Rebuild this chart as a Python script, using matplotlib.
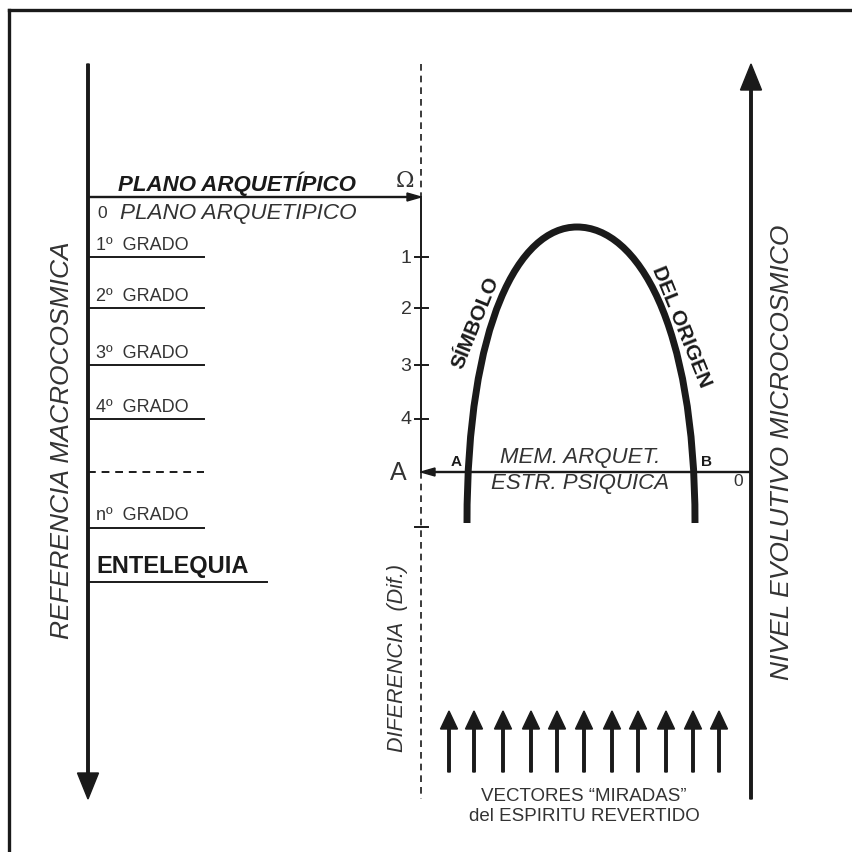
import matplotlib.pyplot as plt
from matplotlib.path import Path
from matplotlib.patches import PathPatch

plt.rcParams['font.family'] = ['Liberation Sans', 'DejaVu Sans']

# degree levels on the left (macrocosmic reference), y in picture pixels
grade_labels = ["1º  GRADO", "2º  GRADO", "3º  GRADO", "4º  GRADO", "nº  GRADO"]
grade_y = [258, 309, 366, 420, 529]
dashed_grade_y = 473
entelequia_y = 583

# ticks on the central axis
tick_labels = ["1", "2", "3", "4"]
tick_y = [258, 309, 366, 420]
bottom_tick_y = 528

# x positions of the "miradas" vectors
vector_x = [449, 474, 503, 531, 557, 584, 612, 638, 666, 693, 719]

# arch bezier control points (left foot -> apex -> right foot)
arch_pts = [(467, 524), (467, 324), (519, 228), (577, 228),
            (637, 228), (695, 324), (695, 524)]

fig = plt.figure(figsize=(8.52, 8.53), dpi=100)
ax = fig.add_axes([0, 0, 1, 1])
ax.set_xlim(0, 852)
ax.set_ylim(853, 0)
ax.axis('off')

ink = '#1a1a1a'
txt = '#333333'

# frame (top and left only)
ax.plot([9, 852], [11, 11], color=ink, lw=2.4)
ax.plot([9, 9], [11, 853], color=ink, lw=2.4)

# left main axis pointing down
ax.arrow(88, 65, 0, 735, width=2.5, head_width=21, head_length=26,
         length_includes_head=True, color=ink)
# right main axis pointing up
ax.arrow(751, 800, 0, -735, width=2.5, head_width=21, head_length=26,
         length_includes_head=True, color=ink)

# central axis: dashed top, solid middle, dashed bottom
ax.plot([421, 421], [65, 198], color=ink, lw=1.2, ls=(0, (4, 3)))
ax.plot([421, 421], [198, 473], color=ink, lw=1.4)
ax.plot([421, 421], [473, 800], color=ink, lw=1.2, ls=(0, (4, 3)))

# horizontal arrows
ax.arrow(88, 198, 333, 0, width=1.0, head_width=8, head_length=14,
         length_includes_head=True, color=ink)
ax.arrow(751, 473, -330, 0, width=1.0, head_width=8, head_length=14,
         length_includes_head=True, color=ink)

ax.text(118, 184, "PLANO ARQUETÍPICO", fontsize=16, fontweight='bold',
        fontstyle='italic', color=ink, va='center', ha='left')
ax.text(405, 181, "Ω", fontsize=16, family='DejaVu Serif', color=txt,
        va='center', ha='center')
ax.text(102, 213, "0", fontsize=12.5, color=txt, va='center', ha='center')
ax.text(120, 213, "PLANO ARQUETIPICO", fontsize=16.2, fontstyle='italic',
        color=txt, va='center', ha='left')

# degree lines
for lab, y in zip(grade_labels, grade_y):
    ax.plot([88, 204], [y, y], color=ink, lw=1.4)
    ax.text(96, y - 13, lab, fontsize=13, color=txt, va='center', ha='left')
ax.plot([88, 204], [dashed_grade_y] * 2, color=ink, lw=1.4, ls=(0, (4, 3)))
ax.plot([88, 267], [entelequia_y] * 2, color=ink, lw=1.4)
ax.text(96, entelequia_y - 17, "ENTELEQUIA", fontsize=17, fontweight='bold',
        color=ink, va='center', ha='left')

# ticks on central axis
for lab, y in zip(tick_labels, tick_y):
    ax.plot([415, 428], [y, y], color=ink, lw=1.4)
    ax.text(406, y, lab, fontsize=14, color=txt, va='center', ha='center')
ax.plot([415, 428], [bottom_tick_y] * 2, color=ink, lw=1.4)
ax.text(398, 473, "A", fontsize=18, color=txt, va='center', ha='center')

# arch
codes = [Path.MOVETO] + [Path.CURVE4] * 6
arch = PathPatch(Path(arch_pts, codes), facecolor='none', edgecolor=ink,
                 lw=5, capstyle='butt')
ax.add_patch(arch)

ax.text(476, 323, "SÍMBOLO", fontsize=15, fontweight='bold', color=ink,
        rotation=68, va='center', ha='center', rotation_mode='anchor')
ax.text(681, 327, "DEL ORIGEN", fontsize=15, fontweight='bold', color=ink,
        rotation=-68, va='center', ha='center', rotation_mode='anchor')

ax.text(456, 462, "A", fontsize=11, fontweight='bold', color=ink,
        va='center', ha='center')
ax.text(707, 462, "B", fontsize=11, fontweight='bold', color=ink,
        va='center', ha='center')
ax.text(580, 457, "MEM. ARQUET.", fontsize=16, fontstyle='italic', color=txt,
        va='center', ha='center')
ax.text(580, 484, "ESTR. PSIQUICA", fontsize=16, fontstyle='italic', color=txt,
        va='center', ha='center')
ax.text(738, 482, "0", fontsize=12.5, color=txt, va='center', ha='center')

# rotated axis titles
ax.text(62, 440, "REFERENCIA MACROCOSMICA", fontsize=19, fontstyle='italic',
        color=txt, rotation=90, va='center', ha='center')
ax.text(782, 452, "NIVEL EVOLUTIVO MICROCOSMICO", fontsize=19,
        fontstyle='italic', color=txt, rotation=90, va='center', ha='center')
ax.text(398, 658, "DIFERENCIA  (Dif.)", fontsize=15.5, fontstyle='italic',
        color=txt, rotation=90, va='center', ha='center')

# vectors "miradas"
for x in vector_x:
    ax.arrow(x, 773, 0, -61, width=2.5, head_width=17, head_length=18,
             length_includes_head=True, color=ink)

ax.text(584, 797, "VECTORES “MIRADAS”", fontsize=13.5, color=txt,
        va='center', ha='center')
ax.text(584, 817, "del ESPIRITU REVERTIDO", fontsize=13.5, color=txt,
        va='center', ha='center')

fig.savefig("out.png", dpi=100, facecolor='white')
